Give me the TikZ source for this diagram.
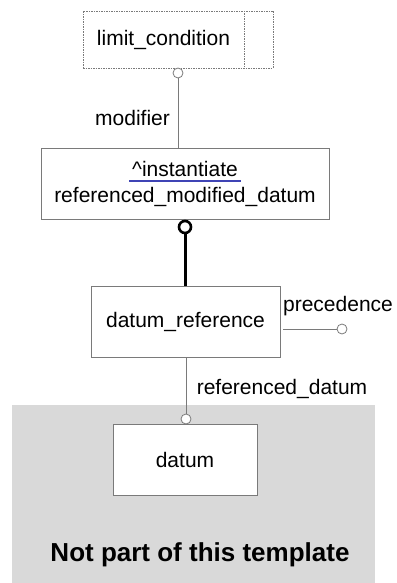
\documentclass[tikz,border=0pt]{standalone}
\usepackage{fontspec}
\setmainfont{Liberation Sans}
\definecolor{greyfill}{HTML}{D9D9D9}
\definecolor{edge}{HTML}{7A7A7A}
\definecolor{uline}{HTML}{3F44B5}
\begin{document}
\begin{tikzpicture}[x=1pt,y=-1pt,
  font=\fontsize{21}{25}\selectfont,
  entity/.style={draw=edge, line width=0.9pt, fill=white, inner sep=0pt},
  dashbox/.style={draw=edge, line width=0.8pt, dash pattern=on 1.5pt off 1pt, inner sep=0pt},
  conn/.style={draw=edge, line width=0.9pt},
  ring/.style={circle, draw=edge, fill=white, line width=0.8pt, inner sep=0pt, minimum size=10pt},
  bigring/.style={circle, draw=black, fill=white, line width=2.6pt, inner sep=0pt, minimum size=12pt},
  lbl/.style={inner sep=0pt}]
\useasboundingbox (0,0) rectangle (396,583);
\fill[greyfill] (12,405) rectangle (375,583);

% limit_condition
\node[dashbox, minimum width=190pt, minimum height=57pt] (lc) at (178,39.5) {};
\draw[edge, line width=0.8pt, dash pattern=on 1.5pt off 1pt] (244,11) -- (244,68);
\node[lbl] (lctext) at (163.5,39.5) {limit\_condition};
\node[ring] (c1) at (178,73) {};
\node[lbl, anchor=center] (mod) at (132.5,118) {modifier};

% referenced_modified_datum
\node[entity, minimum width=288pt, minimum height=71pt] (rmd) at (185,183.5) {};
\node[lbl, inner xsep=3pt, inner ysep=4pt] (inst) at (185,169) {\textasciicircum instantiate};
\draw[uline, line width=1.6pt] (inst.south west) -- (inst.south east);
\node[lbl] (rmdtext) at (185,197) {referenced\_modified\_datum};
\node[bigring] (c2) at (185,227) {};

% datum_reference
\node[entity, minimum width=189pt, minimum height=71pt] (dr) at (185.5,321.5) {};
\node[lbl] (drtext) at (185.5,322) {datum\_reference};
\node[ring] (c3) at (342,329) {};
\coordinate (drp) at (dr.east |- c3);
\node[lbl] (prec) at (338,306) {precedence};
\node[ring] (c4) at (186,419) {};
\node[lbl] (rdl) at (282,389) {referenced\_datum};

% datum
\node[entity, minimum width=144pt, minimum height=71pt] (dt) at (185,459.5) {datum};

% connectors
\draw[conn] (c1.south) -- (c1.south |- rmd.north);
\draw[black, line width=3pt] (c2.south) -- (c2.south |- dr.north);
\draw[conn] ([xshift=3pt]drp) -- (c3.west);
\draw[conn] (dr.south -| c4) -- (c4.north);

\node[lbl, font=\fontsize{26}{30}\selectfont\bfseries] (npt) at (200,555) {Not part of this template};
\end{tikzpicture}
\end{document}
